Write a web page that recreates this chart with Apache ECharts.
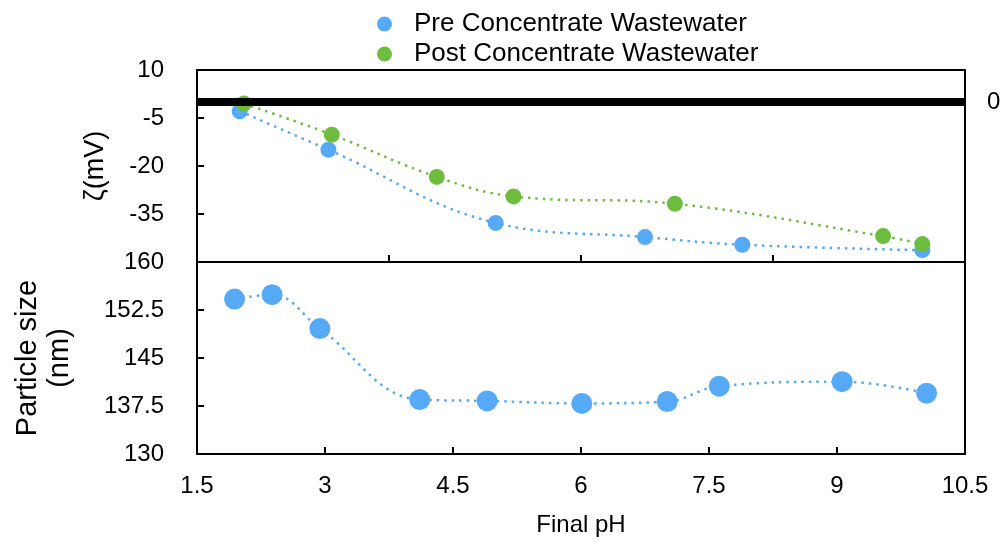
<!DOCTYPE html>
<html>
<head>
<meta charset="utf-8">
<script src="https://cdn.jsdelivr.net/npm/echarts@6/dist/echarts.min.js"></script>
<style>
  html, body { margin: 0; padding: 0; background: #fff; }
  #chart { width: 1005px; height: 550px; }
</style>
</head>
<body>
<div id="chart"></div>
<script>
// zeta potential, top panel
var preZetaPH = [2.00, 3.04, 5.00, 6.75, 7.89, 10.00];
var preZeta = [-2.9, -14.9, -37.8, -42.2, -44.6, -46.3];
var postZetaPH = [2.05, 3.08, 4.31, 5.21, 7.10, 9.54, 10.00];
var postZeta = [-0.5, -10.2, -23.4, -29.5, -31.8, -41.9, -44.4];
// particle size, bottom panel
var sizePH = [1.94, 2.38, 2.94, 4.11, 4.90, 6.01, 7.01, 7.62, 9.06, 10.05];
var sizeNm = [154.2, 154.9, 149.6, 138.5, 138.3, 137.9, 138.2, 140.6, 141.3, 139.5];
var zeroLine = 0;

var blue = '#55a9f7';
var green = '#6dbd3f';
var font = 'Liberation Sans, Arial, sans-serif';

function pairs(xs, ys) {
    return xs.map(function (x, i) { return [x, ys[i]]; });
}

var chart = echarts.init(document.getElementById('chart'));

var option = {
    animation: false,
    textStyle: { fontFamily: font, color: '#000' },
    legend: {
        orient: 'vertical',
        left: 372,
        top: 6,
        itemGap: 4,
        itemWidth: 15,
        itemHeight: 15,
        icon: 'circle',
        textStyle: { fontSize: 26, color: '#000', fontFamily: font, padding: [0, 0, 0, 17] },
        data: ['Pre Concentrate Wastewater', 'Post Concentrate Wastewater']
    },
    grid: [
        { left: 197, right: 40, top: 70, height: 192, show: true, borderColor: '#000', borderWidth: 2 },
        { left: 197, right: 40, top: 262, height: 192, show: true, borderColor: '#000', borderWidth: 2 }
    ],
    xAxis: [
        {
            gridIndex: 0, type: 'value', min: 1.5, max: 10.5, interval: 2.25,
            axisLine: { onZero: false, lineStyle: { color: '#000', width: 2 } },
            axisTick: { inside: true, length: 7, lineStyle: { color: '#000', width: 2 } },
            axisLabel: { show: false },
            splitLine: { show: false }
        },
        {
            gridIndex: 1, type: 'value', min: 1.5, max: 10.5, interval: 1.5,
            name: 'Final pH', nameLocation: 'middle', nameGap: 59,
            nameTextStyle: { fontSize: 24, color: '#000' },
            axisLine: { onZero: false, lineStyle: { color: '#000', width: 2 } },
            axisTick: { inside: true, length: 7, lineStyle: { color: '#000', width: 2 } },
            axisLabel: { fontSize: 24, color: '#000', margin: 20 },
            splitLine: { show: false }
        }
    ],
    yAxis: [
        {
            gridIndex: 0, type: 'value', min: -50, max: 10, interval: 15,
            name: 'ζ(mV)', nameLocation: 'middle', nameGap: 88, nameRotate: 90,
            nameTextStyle: { fontSize: 27, color: '#000' },
            axisLine: { onZero: false, lineStyle: { color: '#000', width: 2 } },
            axisTick: { inside: true, length: 7, lineStyle: { color: '#000', width: 2 } },
            axisLabel: { fontSize: 24, color: '#000', margin: 33, showMinLabel: false },
            splitLine: { show: false }
        },
        {
            gridIndex: 1, type: 'value', min: 130, max: 160, interval: 7.5,
            name: 'Particle size\n(nm)', nameLocation: 'middle', nameGap: 121, nameRotate: 90,
            nameTextStyle: { fontSize: 29, color: '#000', lineHeight: 32 },
            axisLine: { onZero: false, lineStyle: { color: '#000', width: 2 } },
            axisTick: { inside: true, length: 7, lineStyle: { color: '#000', width: 2 } },
            axisLabel: { fontSize: 24, color: '#000', margin: 33 },
            splitLine: { show: false }
        }
    ],
    series: [
        {
            name: 'Pre Concentrate Wastewater',
            type: 'line', xAxisIndex: 0, yAxisIndex: 0,
            smooth: 0.4,
            symbol: 'circle', symbolSize: 16,
            itemStyle: { color: blue },
            lineStyle: { color: blue, width: 2.5, type: [2.5, 5] },
            data: pairs(preZetaPH, preZeta)
        },
        {
            name: 'Post Concentrate Wastewater',
            type: 'line', xAxisIndex: 0, yAxisIndex: 0,
            smooth: 0.4,
            symbol: 'circle', symbolSize: 16,
            itemStyle: { color: green },
            lineStyle: { color: green, width: 2.5, type: [2.5, 5] },
            data: pairs(postZetaPH, postZeta),
            markLine: {
                silent: true,
                symbol: 'none',
                lineStyle: { color: '#000', width: 8, type: 'solid' },
                label: { position: 'end', formatter: '0', fontSize: 24, color: '#000', distance: 22, fontFamily: font },
                data: [{ yAxis: zeroLine }]
            }
        },
        {
            name: 'Pre Concentrate Wastewater',
            type: 'line', xAxisIndex: 1, yAxisIndex: 1,
            smooth: 0.4,
            symbol: 'circle', symbolSize: 21,
            itemStyle: { color: blue },
            lineStyle: { color: blue, width: 2.5, type: [2.5, 5] },
            data: pairs(sizePH, sizeNm)
        }
    ]
};

chart.setOption(option);
</script>
</body>
</html>
